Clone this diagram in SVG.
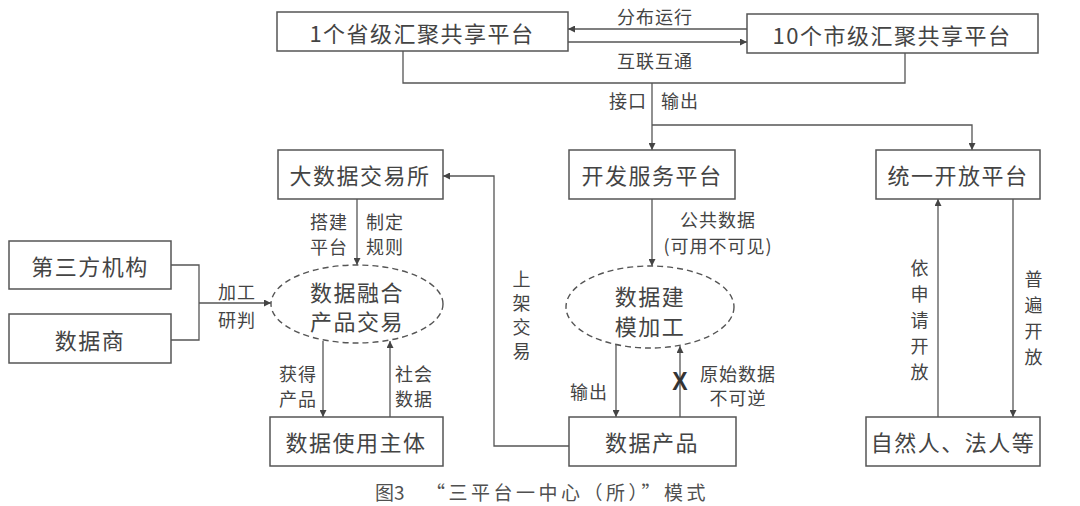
<svg xmlns="http://www.w3.org/2000/svg" width="1080" height="506" viewBox="0 0 1080 506">
<defs>
<marker id="ah" viewBox="0 0 10 10" refX="10" refY="5" markerWidth="7" markerHeight="7" markerUnits="userSpaceOnUse" orient="auto">
<path d="M0,0 L10,5 L0,10 z" fill="#444"/>
</marker>
<style>
.box{fill:#fff;stroke:#555;stroke-width:1.5}
.ell{fill:none;stroke:#555;stroke-width:1.4;stroke-dasharray:6 4}
.ln{fill:none;stroke:#555;stroke-width:1.3}
.arr{fill:none;stroke:#555;stroke-width:1.3;marker-end:url(#ah)}
text{font-family:"Noto Sans CJK SC","Noto Sans",sans-serif;fill:#444;text-anchor:middle;dominant-baseline:central}
.t{font-size:22px;letter-spacing:1.5px}
.l{font-size:18px;letter-spacing:1px}
.cap{font-size:19px;fill:#505050;text-anchor:start}
</style>
</defs>
<g id="connectors">
<path class="arr" d="M747,29 H568"/>
<path class="arr" d="M568,42 H747"/>
<path class="ln" d="M403,51 V83 H905 V53"/>
<path class="arr" d="M652,83 V150"/>
<path class="arr" d="M652,125 H972 V150"/>
<path class="arr" d="M357,198 V265"/>
<path class="ln" d="M171,265 H199 V340 H171"/>
<path class="arr" d="M199,303 H271"/>
<path class="arr" d="M323,341 V417"/>
<path class="arr" d="M390,417 V341"/>
<path class="arr" d="M652,198 V266"/>
<path class="arr" d="M616,345 V417"/>
<path class="arr" d="M680,417 V346"/>
<path class="arr" d="M569,446 H494 V176 H443"/>
<path class="arr" d="M938,417 V199"/>
<path class="arr" d="M1013,199 V417"/>
<text class="l" x="655" y="16">分布运行</text>
<text class="l" x="655" y="60">互联互通</text>
<text class="l" x="628" y="100">接口</text>
<text class="l" x="680" y="100">输出</text>
<text class="l" x="329" y="221">搭建</text>
<text class="l" x="329" y="246">平台</text>
<text class="l" x="385" y="221">制定</text>
<text class="l" x="385" y="246">规则</text>
<text class="l" x="237" y="291">加工</text>
<text class="l" x="237" y="319">研判</text>
<text class="l" x="522" y="278">上</text>
<text class="l" x="522" y="302">架</text>
<text class="l" x="522" y="326">交</text>
<text class="l" x="522" y="350">易</text>
<text class="l" x="298" y="373">获得</text>
<text class="l" x="298" y="398">产品</text>
<text class="l" x="414" y="373">社会</text>
<text class="l" x="414" y="398">数据</text>
<text class="l" x="718" y="219">公共数据</text>
<text class="l" x="718" y="245">(可用不可见)</text>
<text class="l" x="589" y="391">输出</text>
<text transform="translate(680,381) scale(1,1.15)" style="font-family:'Liberation Sans',sans-serif;font-size:23px;font-weight:bold;fill:#333">X</text>
<text class="l" x="738" y="373">原始数据</text>
<text class="l" x="738" y="397">不可逆</text>
<text class="l" x="920" y="267">依</text>
<text class="l" x="920" y="293">申</text>
<text class="l" x="920" y="319">请</text>
<text class="l" x="920" y="345">开</text>
<text class="l" x="920" y="371">放</text>
<text class="l" x="1034" y="278">普</text>
<text class="l" x="1034" y="304">遍</text>
<text class="l" x="1034" y="330">开</text>
<text class="l" x="1034" y="356">放</text>
</g>
<g id="n1"><rect class="box" x="277" y="12" width="291" height="39"/><text class="t" x="422" y="32">1个省级汇聚共享平台</text></g>
<g id="n2"><rect class="box" x="747" y="14" width="291" height="39"/><text class="t" x="892" y="34">10个市级汇聚共享平台</text></g>
<g id="n3"><rect class="box" x="278" y="150" width="165" height="49"/><text class="t" x="360" y="174">大数据交易所</text></g>
<g id="n4"><rect class="box" x="569" y="150" width="166" height="49"/><text class="t" x="652" y="174">开发服务平台</text></g>
<g id="n5"><rect class="box" x="876" y="150" width="164" height="49"/><text class="t" x="958" y="174">统一开放平台</text></g>
<g id="n6"><rect class="box" x="9" y="241" width="162" height="48"/><text class="t" x="90" y="265">第三方机构</text></g>
<g id="n7"><rect class="box" x="9" y="314" width="162" height="49"/><text class="t" x="90" y="339">数据商</text></g>
<g id="n8"><ellipse class="ell" cx="357" cy="304" rx="86" ry="39"/><text class="t" x="357" y="291">数据融合</text><text class="t" x="357" y="320">产品交易</text></g>
<g id="n9"><ellipse class="ell" cx="650" cy="307" rx="84" ry="41"/><text class="t" x="650" y="295">数据建</text><text class="t" x="650" y="325">模加工</text></g>
<g id="n10"><rect class="box" x="270" y="417" width="173" height="49"/><text class="t" x="356" y="441">数据使用主体</text></g>
<g id="n11"><rect class="box" x="569" y="417" width="167" height="49"/><text class="t" x="652" y="441">数据产品</text></g>
<g id="n12"><rect class="box" x="866" y="417" width="174" height="49"/><text class="t" x="953" y="441">自然人、法人等</text></g>
<text class="cap" x="375" y="491">图3</text>
<text class="cap" x="426" y="491" style="letter-spacing:3.5px">“三平台一中心（所）”模式</text>
</svg>
